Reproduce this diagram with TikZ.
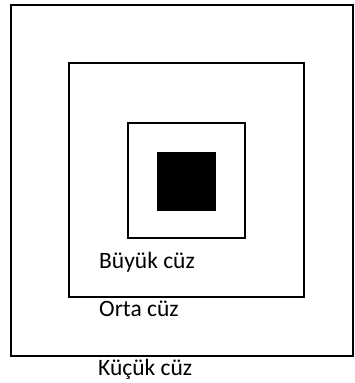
\documentclass[tikz,border=0pt]{standalone}
\usepackage{fontspec}
\setmainfont{Carlito}
\begin{document}
\begin{tikzpicture}[x=1pt,y=-1pt]
			\tikzset{frame/.style={line width=2pt},
				label/.style={anchor=base west, inner sep=0pt, font=\fontsize{23.5}{28}\selectfont}}
			\useasboundingbox (0,0) rectangle (355,383);

			% Nested frames, outer to inner
			\draw[frame] (11,5) rectangle (353,356);
			\draw[frame] (69,63) rectangle (304,297);
			\draw[frame] (128,123) rectangle (245,238);

			% Solid core
			\fill (157,152) rectangle (216,211);

			% Labels under each frame
			\node[label] (buyuk) at (99,268) {Büyük cüz};
			\node[label] (orta) at (99,316) {Orta cüz};
			\node[label] (kucuk) at (98,375) {Küçük cüz};
		\end{tikzpicture}
\end{document}
